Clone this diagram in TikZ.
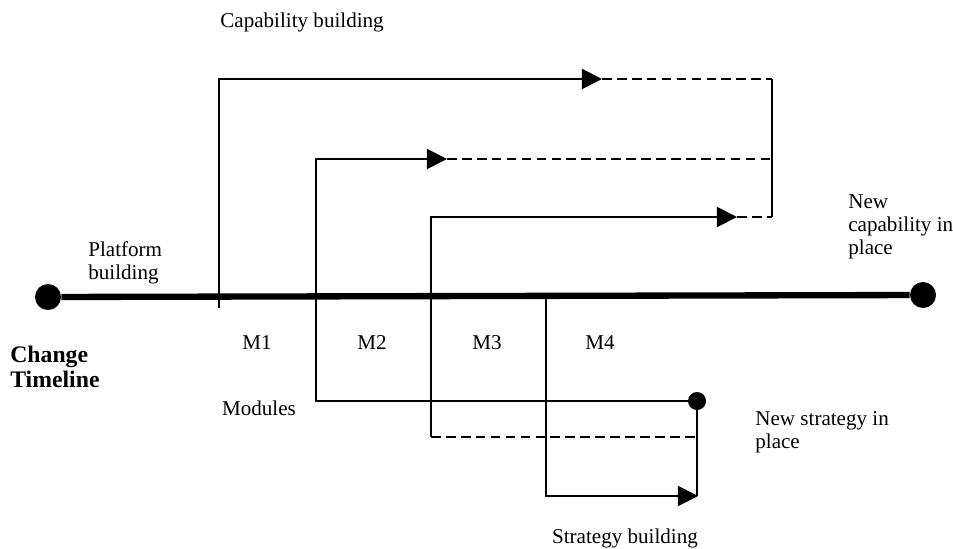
\documentclass[tikz,border=0pt]{standalone}
\usepackage{fontspec}
\setmainfont{Liberation Serif}
\usepackage{tikz}
\usetikzlibrary{arrows.meta, positioning, calc}

\tikzset{
  link/.style={line width=1.1pt},
  dashlink/.style={line width=1.1pt, dash pattern=on 5.5pt off 3pt},
  tiplink/.style={line width=1.1pt, -{Triangle[length=11.5pt, width=11.5pt]}},
  label/.style={font=\fontsize{12}{13}\selectfont, align=left, inner sep=0pt},
  timeline/.style={line width=3.6pt}
}

\begin{document}
\begin{tikzpicture}[x=0.02cm, y=-0.02cm]
  \useasboundingbox (0,0) rectangle (953,548);

  % Timeline
  \node[circle, fill=black, minimum size=0.52cm, inner sep=0pt] (start) at (48,297) {};
  \node[circle, fill=black, minimum size=0.52cm, inner sep=0pt] (stop) at (923,295) {};
  \draw[timeline] (start) -- (stop);

  % Corner points
  \coordinate (c1) at (219,308);
  \coordinate (c1up) at (219,79);
  \coordinate (c1tip) at (602,79);
  \coordinate (c1end) at (772,79);
  \coordinate (c2up) at (316,159);
  \coordinate (c2tip) at (447,159);
  \coordinate (c2end) at (772,159);
  \coordinate (c2low) at (316,401);
  \coordinate (c3up) at (431,217);
  \coordinate (c3tip) at (737,217);
  \coordinate (c3end) at (772,217);
  \coordinate (c3low) at (431,437);
  \coordinate (c3right) at (697,437);
  \coordinate (c4) at (546,297);
  \coordinate (c4low) at (546,496);
  \coordinate (c4tip) at (698,496);
  \node[circle, fill=black, minimum size=0.36cm, inner sep=0pt] (goal) at (697,401) {};

  % Capability building
  \draw[tiplink] (c1) -- (c1up) -- (c1tip);
  \draw[dashlink] (c1tip) -- (c1end);
  \draw[tiplink] (goal.center) -- (c2low) -- (c2up) -- (c2tip);
  \draw[dashlink] (c2tip) -- (c2end);
  \draw[tiplink] (c3low) -- (c3up) -- (c3tip);
  \draw[dashlink] (c3tip) -- (c3end);
  \draw[link] (c1end) -- (c3end);

  % Strategy building
  \draw[dashlink] (c3low) -- (c3right);
  \draw[link] (goal.center) -- (goal.center |- c4low);
  \draw[tiplink] (c4) -- (c4low) -- (c4tip);

  % Labels
  \node[label, anchor=west] (caplabel) at (220,22) {Capability building};
  \node[label, anchor=west] (platlabel) at (88,263) {Platform\\building};
  \node[label, anchor=west, font=\fontsize{13.5}{14.5}\selectfont\bfseries] (change) at (10,367) {Change\\Timeline};
  \node[label] (m1) at (257,343) {M1};
  \node[label] (m2) at (372,343) {M2};
  \node[label] (m3) at (487,343) {M3};
  \node[label] (m4) at (600,343) {M4};
  \node[label] (modules) at (259,408) {Modules};
  \node[label, anchor=west] (newstrat) at (755,432) {New strategy in\\place};
  \node[label] (stratlabel) at (625,538) {Strategy building};
  \node[label, anchor=west] (newcap) at (848,227) {New\\capability in\\place};
\end{tikzpicture}
\end{document}
